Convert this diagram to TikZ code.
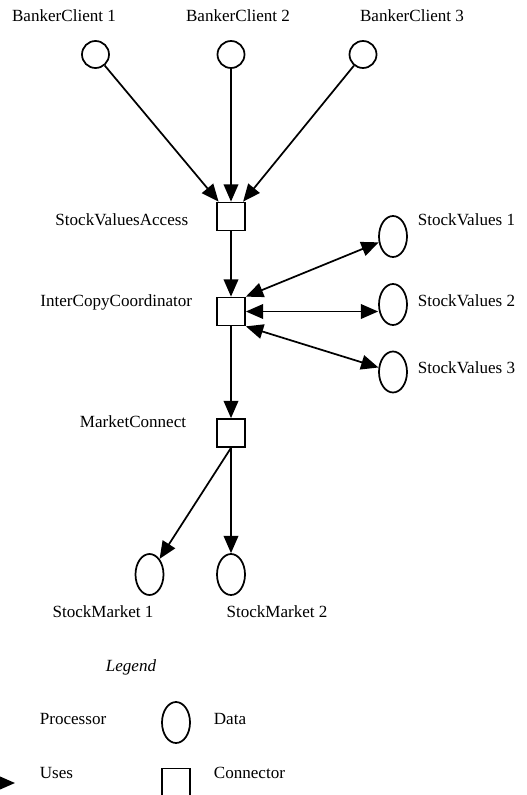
\documentclass[tikz,border=0pt]{standalone}
\usepackage{fontspec}
\setmainfont{Liberation Serif}
\usetikzlibrary{arrows.meta,shapes.geometric}

\begin{document}
\begin{tikzpicture}[x=0.75pt,y=-0.75pt,line width=1.3pt,
    proc/.style={draw,circle,minimum size=20.25pt,inner sep=0pt},
    data/.style={draw,ellipse,minimum width=21pt,minimum height=30.75pt,inner sep=0pt},
    conn/.style={draw,rectangle,minimum size=21pt,inner sep=0pt},
    lbl/.style={inner sep=0pt,font=\fontsize{12.8}{15}\selectfont},
    uses/.style={-{Triangle[length=13pt,width=11pt]}},
    both/.style={{Triangle[length=13pt,width=11pt]}-{Triangle[length=13pt,width=11pt]}}]
    \useasboundingbox (0,0) rectangle (527,795);
    \clip (0,0) rectangle (527,795);

    \node[proc] (bc1) at ( 95.5, 54.5) {};
    \node[proc] (bc2) at (231  , 54.5) {};
    \node[proc] (bc3) at (363  , 54.5) {};
    \node[conn] (sva) at (231, 216.5) {};
    \node[conn] (icc) at (231, 311.5) {};
    \node[conn] (mc)  at (231, 433  ) {};
    \node[data] (sv1) at (393, 236.5) {};
    \node[data] (sv2) at (393, 304.5) {};
    \node[data] (sv3) at (393, 372  ) {};
    \node[data] (sm1) at (149.5, 574.5) {};
    \node[data] (sm2) at (231  , 574.5) {};

    \node[lbl,anchor=base]      (bc1l) at ( 64, 22) {BankerClient 1};
    \node[lbl,anchor=base]      (bc2l) at (238, 22) {BankerClient 2};
    \node[lbl,anchor=base]      (bc3l) at (412, 22) {BankerClient 3};
    \node[lbl,anchor=base east] (sval) at (189, 225) {StockValuesAccess};
    \node[lbl,anchor=base east] (iccl) at (193, 306) {InterCopyCoordinator};
    \node[lbl,anchor=base east] (mcl)  at (187, 427) {MarketConnect};
    \node[lbl,anchor=base west] (sv1l) at (417, 225) {StockValues 1};
    \node[lbl,anchor=base west] (sv2l) at (417, 306) {StockValues 2};
    \node[lbl,anchor=base west] (sv3l) at (417, 373) {StockValues 3};
    \node[lbl,anchor=base]      (sm1l) at (103, 617) {StockMarket 1};
    \node[lbl,anchor=base]      (sm2l) at (277, 617) {StockMarket 2};

    \draw[uses] (bc1) -- (sva);
    \draw[uses] (bc2) -- (sva);
    \draw[uses] (bc3) -- (sva);
    \draw[uses] (sva) -- (icc);
    \draw[both] (icc.north east) -- (sv1);
    \draw[both] (icc) -- (icc -| sv2.west);
    \draw[both] (icc.south east) -- (sv3);
    \draw[uses] (icc) -- (mc);
    \draw[uses] (mc.south) -- (sm1);
    \draw[uses] (mc) -- (sm2);

    \node[lbl,anchor=base,font=\fontsize{12.8}{15}\selectfont\itshape] (legend) at (131, 671) {Legend};
    \node[data] (ldata) at (176, 722.5) {};
    \node[conn] (lconn) at (176, 782.5) {};
    \coordinate (usesA) at (-40, 783);
    \coordinate (usesB) at ( 15, 783);
    \draw[uses] (usesA) -- (usesB);
    \node[lbl,anchor=base west] (procl)  at ( 39, 724) {Processor};
    \node[lbl,anchor=base west] (datal)  at (213, 724) {Data};
    \node[lbl,anchor=base west] (usesl)  at ( 39, 778) {Uses};
    \node[lbl,anchor=base west] (connl)  at (213, 778) {Connector};
\end{tikzpicture}
\end{document}
